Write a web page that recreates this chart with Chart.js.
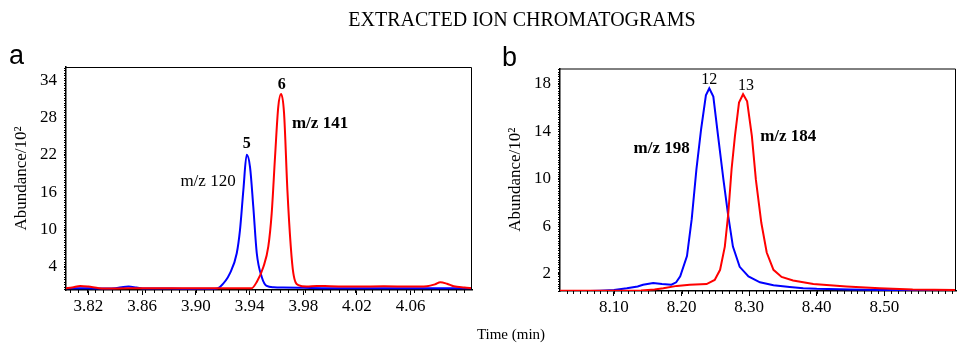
<!DOCTYPE html>
<html><head><meta charset="utf-8">
<script src="https://cdn.jsdelivr.net/npm/chart.js@4/dist/chart.umd.min.js"></script>
<style>
html,body{margin:0;padding:0;background:#fff;}
body{width:957px;height:345px;position:relative;overflow:hidden;font-family:"Liberation Serif",serif;}
.t{position:absolute;white-space:nowrap;color:#000;}
#cA{position:absolute;left:0;top:0;}
#cB{position:absolute;left:480px;top:0;}
</style></head><body>
<canvas id="cA" width="480" height="345"></canvas>
<canvas id="cB" width="477" height="345"></canvas>
<div class="t" style="left:0;width:1044px;text-align:center;top:9px;font-size:20px;line-height:20px;">EXTRACTED ION CHROMATOGRAMS</div>
<div class="t" style="left:9px;top:42px;font-family:'Liberation Sans',sans-serif;font-size:27px;line-height:27px;">a</div>
<div class="t" style="left:502px;top:44px;font-family:'Liberation Sans',sans-serif;font-size:27px;line-height:27px;">b</div>
<div class="t" style="left:0;width:1022px;text-align:center;top:327px;font-size:15px;line-height:15px;">Time (min)</div>
<script>
// ---------- Panel a data ----------
const xTicksA = [3.82, 3.86, 3.90, 3.94, 3.98, 4.02, 4.06];
const yTicksA = [4, 10, 16, 22, 28, 34];
const timeA120 = [3.8034,3.815,3.825,3.840,3.846,3.850,3.856,3.862,3.875,3.890,3.905,3.914,3.918,3.9255,3.9305,3.9329,3.9354,3.9379,3.9404,3.9428,3.9454,3.9491,3.9528,3.958,3.965,3.980,4.000,4.030,4.060,4.080,4.1056];
const abundA120 = [0.6,0.6,0.55,0.6,0.8,0.85,0.7,0.55,0.55,0.5,0.5,0.5,0.8,3.0,6.2,9.9,16.3,22.0,20.0,13.7,6.2,2.4,0.95,0.75,0.7,0.65,0.6,0.6,0.6,0.6,0.6];
const timeA141 = [3.8034,3.808,3.814,3.820,3.828,3.840,3.860,3.880,3.900,3.920,3.935,3.9416,3.9454,3.9503,3.9540,3.9565,3.9590,3.9614,3.9635,3.9657,3.9682,3.9707,3.9726,3.9763,3.9826,3.990,4.000,4.020,4.040,4.060,4.072,4.078,4.082,4.087,4.092,4.100,4.1056];
const abundA141 = [0.6,0.7,0.95,0.85,0.6,0.55,0.6,0.6,0.6,0.6,0.6,0.6,1.6,4.0,7.3,12.6,21.7,29.7,31.75,28.7,16.3,7.3,3.0,1.1,0.85,0.95,0.9,0.85,0.9,0.85,0.9,1.2,1.55,1.3,0.9,0.7,0.6];

// ---------- Panel b data ----------
const xTicksB = [8.10, 8.20, 8.30, 8.40, 8.50];
const yTicksB = [2, 6, 10, 14, 18];
const timeB198 = [8.0201,8.05,8.079,8.10,8.119,8.135,8.143,8.158,8.171,8.185,8.192,8.198,8.208,8.215,8.222,8.229,8.236,8.241,8.247,8.254,8.262,8.269,8.276,8.286,8.299,8.316,8.336,8.360,8.38,8.40,8.45,8.50,8.55,8.6061];
const abundB198 = [0.55,0.55,0.6,0.65,0.8,0.95,1.1,1.25,1.15,1.1,1.3,1.8,3.5,6.6,10.8,14.2,17.0,17.6,16.9,13.6,9.9,6.9,4.3,2.6,1.8,1.3,1.05,0.9,0.8,0.75,0.7,0.65,0.62,0.6];
const timeB184 = [8.0201,8.06,8.10,8.14,8.16,8.173,8.193,8.212,8.237,8.249,8.257,8.264,8.269,8.274,8.279,8.285,8.291,8.297,8.304,8.310,8.318,8.326,8.336,8.348,8.365,8.395,8.444,8.493,8.542,8.6061];
const abundB184 = [0.6,0.6,0.6,0.62,0.7,0.8,1.0,1.1,1.15,1.5,2.35,4.3,7.0,10.8,13.6,16.4,17.1,16.5,13.6,9.9,6.3,3.8,2.35,1.75,1.45,1.15,0.95,0.8,0.7,0.65];

const serif = "'Liberation Serif', 'Times New Roman', serif";

const framePlugin = {
  id: 'frame',
  afterDraw(chart, args, opts) {
    const {ctx, chartArea: {left, right, top, bottom}, scales: {x, y}} = chart;
    ctx.save();
    ctx.strokeStyle = '#000';
    ctx.lineWidth = 1;
    ctx.beginPath();
    ctx.moveTo(left, top + 0.5); ctx.lineTo(right - 0.5, top + 0.5); ctx.lineTo(right - 0.5, bottom);
    for (let i = Math.ceil(x.min / opts.xStep); i * opts.xStep <= x.max; i++) {
      const px = Math.round(x.getPixelForValue(i * opts.xStep)) + 0.5;
      ctx.moveTo(px, bottom); ctx.lineTo(px, bottom + 3);
    }
    for (let i = Math.ceil(y.min / opts.yStep); i * opts.yStep <= y.max; i++) {
      const py = Math.round(y.getPixelForValue(i * opts.yStep)) + 0.5;
      ctx.moveTo(left - 2, py); ctx.lineTo(left, py);
    }
    ctx.stroke();
    ctx.restore();
  }
};

const labelPlugin = {
  id: 'peakLabels',
  afterDatasetsDraw(chart, args, opts) {
    const {ctx, scales: {x, y}} = chart;
    ctx.save();
    ctx.fillStyle = '#000';
    ctx.textAlign = 'center';
    ctx.textBaseline = 'middle';
    for (const it of opts.items) {
      ctx.font = (it.bold ? 'bold ' : '') + it.size + 'px ' + serif;
      ctx.fillText(it.text, x.getPixelForValue(it.x), y.getPixelForValue(it.y));
    }
    ctx.restore();
  }
};

function pts(xs, ys) { return xs.map((v, i) => ({x: v, y: ys[i]})); }

function makeChart(id, c) {
  const ds = (name, xs, ys, col) => ({label: name, data: pts(xs, ys), borderColor: col, borderWidth: 2, pointRadius: 0,
    tension: c.smooth ? 0.4 : 0, cubicInterpolationMode: c.smooth ? 'monotone' : 'default', fill: false});
  return new Chart(document.getElementById(id), {
    type: 'line',
    data: {datasets: [
      ds(c.redName, c.redX, c.redY, '#ff0000'),
      ds(c.blueName, c.blueX, c.blueY, '#0000ff')
    ]},
    options: {
      responsive: false, animation: false, devicePixelRatio: 1,
      layout: {padding: {top: c.padTop, right: c.padRight, left: 0, bottom: 0}},
      plugins: {
        legend: {display: false}, tooltip: {enabled: false},
        frame: {xStep: c.xMinor, yStep: c.yMinor},
        peakLabels: {items: c.labels}
      },
      scales: {
        x: {
          type: 'linear', min: c.xMin, max: c.xMax,
          afterBuildTicks: s => { s.ticks = c.xTicks.map(v => ({value: v})); },
          afterFit: s => { s.height = c.xH; },
          ticks: {callback: v => Number(v).toFixed(2), font: {family: serif, size: 17}, color: '#000', padding: 1, maxRotation: 0, autoSkip: false},
          grid: {drawOnChartArea: false, tickLength: 5, color: '#000', tickWidth: 1},
          border: {color: '#000', width: 1.5}
        },
        y: {
          type: 'linear', min: c.yMin, max: c.yMax,
          afterBuildTicks: s => { s.ticks = c.yTicks.map(v => ({value: v})); },
          afterFit: s => { s.width = c.yW; },
          ticks: {callback: v => String(v), font: {family: serif, size: 17}, color: '#000', padding: 7, autoSkip: false},
          grid: {drawOnChartArea: false, tickLength: 2, color: '#000'},
          border: {color: '#000', width: 1.5},
          title: {display: true, text: 'Abundance/10²', font: {family: serif, size: 17}, color: '#000', padding: {top: c.yTitlePad, bottom: 0}}
        }
      }
    },
    plugins: [framePlugin, labelPlugin]
  });
}

makeChart('cA', {
  redName: 'm/z 141', redX: timeA141, redY: abundA141,
  blueName: 'm/z 120', blueX: timeA120, blueY: abundA120,
  xMin: 3.8034, xMax: 4.1056, yMin: 0.3, yMax: 36.1, smooth: true,
  xTicks: xTicksA, yTicks: yTicksA, xMinor: 0.00625, yMinor: 0.4,
  padTop: 67, padRight: 8, xH: 55, yW: 66, yTitlePad: 11,
  labels: [
    {text: '5', x: 3.9379, y: 23.84, size: 16, bold: true},
    {text: '6', x: 3.9640, y: 33.24, size: 16, bold: true},
    {text: 'm/z 120', x: 3.9091, y: 17.79, size: 17, bold: false},
    {text: 'm/z 141', x: 3.9925, y: 27.05, size: 17, bold: true}
  ]
});

makeChart('cB', {
  redName: 'm/z 184', redX: timeB184, redY: abundB184,
  blueName: 'm/z 198', blueX: timeB198, blueY: abundB198,
  xMin: 8.0201, xMax: 8.6061, yMin: 0.57, yMax: 19.26, smooth: false,
  xTicks: xTicksB, yTicks: yTicksB, xMinor: 0.01, yMinor: 0.2,
  padTop: 68.5, padRight: 1, xH: 54, yW: 80, yTitlePad: 25.6,
  labels: [
    {text: '12', x: 8.2410, y: 18.29, size: 16, bold: false},
    {text: '13', x: 8.2953, y: 17.79, size: 16, bold: false},
    {text: 'm/z 198', x: 8.1706, y: 12.56, size: 17, bold: true},
    {text: 'm/z 184', x: 8.3579, y: 13.53, size: 17, bold: true}
  ]
});
</script>
</body></html>
